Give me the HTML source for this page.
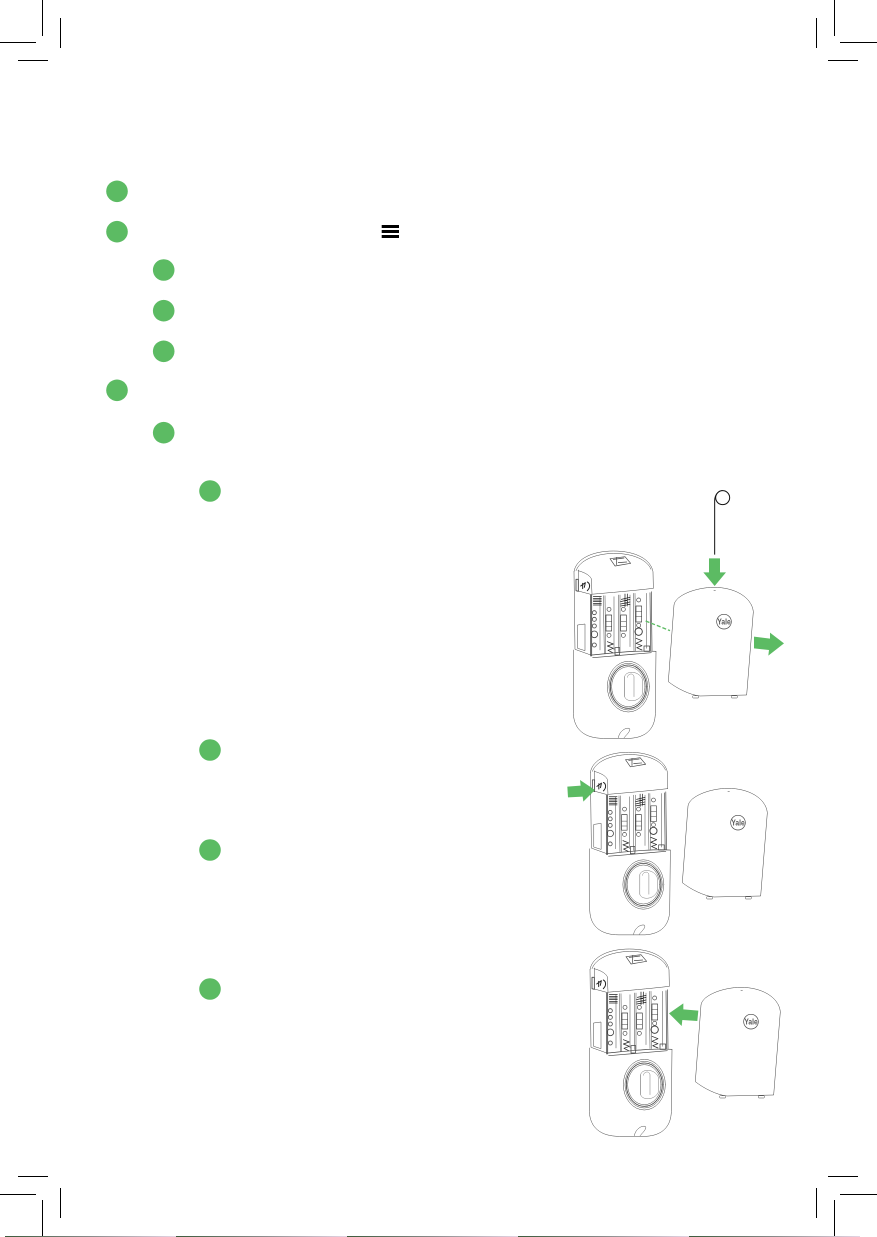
<!DOCTYPE html>
<html><head><meta charset="utf-8"><style>
html,body{margin:0;padding:0;background:#fff;width:877px;height:1237px;overflow:hidden}
svg{display:block}
</style></head><body>
<svg width="877" height="1237" viewBox="0 0 877 1237" xmlns="http://www.w3.org/2000/svg">
<defs>
<linearGradient id="st"><stop offset="0" stop-color="#3c5a3c"/><stop offset=".5" stop-color="#8a8a8a"/><stop offset="1" stop-color="#e4d4e4"/></linearGradient>
<g id="lock" fill="none" stroke="#444" stroke-width="1.5" stroke-linejoin="round" stroke-linecap="round">
<path d="M72,275C78,235 130,213 190,213C258,213 302,238 309,275L310,325"/>
<path d="M78,272C90,240 135,222 190,220C250,220 292,240 303,268"/>
<path d="M84,272C100,276 118,284 124,296L126,342"/>
<path d="M85,333L122,343C180,338 250,332 310,325"/>
<path d="M72,275L75,508L125,526"/>
<path d="M78,298L78,332L85,334L85,298Z" stroke-width="2.5"/>
<path d="M85,270L85,333"/>
<path d="M92,318L106,308L103,322M98,310L98,326M112,306C120,310 122,322 112,332" stroke="#222" stroke-width="3"/>
<path d="M180,236L225,230L242,250L195,258Z" stroke-width="2"/>
<path d="M190,238L222,234M205,248L230,246M200,232L200,254" stroke-width="2.2"/>
<path d="M83,435L105,432L105,512L83,505Z"/>
<path d="M125,345L125,528M122,345L122,528" stroke-width="2.4"/>
<path d="M300,338L302,512M304,335L306,512" stroke-width="2"/>
<path d="M160,347L163,520M165,347L167,520M205,345L205,515M210,345L210,515M250,340L252,512M255,340L257,512"/>
<path d="M150,350L150,510M192,350L192,510M240,345L240,500M290,340L290,505"/>
<path d="M130,350L154,350M130,355L154,355M130,360L154,360M130,365L154,365M130,370L154,370M130,375L154,375" stroke="#222" stroke-width="2.2"/>
<path d="M212,365L240,358M212,372L240,366M212,378L240,373M214,358L240,352M225,342V380M232,342V378" stroke="#222" stroke-width="2.2"/>
<circle cx="133" cy="398" r="6" stroke-width="2.4"/><circle cx="133" cy="418" r="6" stroke-width="2.4"/><circle cx="133" cy="438" r="6" stroke-width="2.4"/>
<circle cx="133" cy="463" r="10" stroke-width="2.4"/><circle cx="133" cy="495" r="6" stroke-width="2.4"/>
<rect x="168" y="405" width="17" height="48" stroke-width="2"/>
<path d="M168,425H185M168,440H185"/>
<circle cx="177" cy="388" r="6" stroke-width="2"/><circle cx="177" cy="466" r="6" stroke-width="2"/>
<rect x="212" y="405" width="17" height="48" stroke-width="2"/>
<path d="M212,425H229M212,440H229"/>
<circle cx="220" cy="388" r="6" stroke-width="2"/><circle cx="220" cy="466" r="6" stroke-width="2"/>
<rect x="258" y="378" width="17" height="48" stroke-width="2"/>
<path d="M258,395H275M258,410H275"/>
<circle cx="266" cy="360" r="6" stroke-width="2"/><circle cx="266" cy="436" r="6" stroke-width="2"/>
<circle cx="266" cy="455" r="11" stroke-width="3"/>
<path d="M172,485L190,492L172,498L190,505L174,511L188,518M258,475L276,482L258,490L276,497L260,503L276,510" stroke="#222" stroke-width="2.2"/>
<rect x="195" y="503" width="14" height="22" stroke-width="2.2"/>
<rect x="282" y="498" width="17" height="16" stroke-width="2.2"/>
<path d="M125,525C180,520 260,510 318,514M128,533C190,528 260,522 304,518" stroke-width="2"/>
<path d="M70,510L70,700C72,750 105,775 160,775L240,775C290,772 315,745 316,700L318,515"/>
<ellipse cx="235" cy="620" rx="63" ry="76"/>
<ellipse cx="235" cy="620" rx="58" ry="70"/>
<ellipse cx="235" cy="620" rx="54" ry="65" stroke-width="2.6"/>
<ellipse cx="235" cy="620" rx="50" ry="60" stroke-width="1.5"/>
<path d="M224,590C226,572 268,570 278,600L278,640C268,668 228,668 224,650Z" stroke="#777"/>
<path d="M224,590L224,650M232,592C234,580 250,578 252,590L252,650" stroke="#777"/>
<path d="M205,773C208,755 225,742 238,745C245,752 225,768 222,774"/>
</g>
<g id="cover" fill="none" stroke="#444" stroke-width="1.5" stroke-linejoin="round">
<path d="M372,375C376,345 440,322 492,322C552,322 605,350 610,395L590,645L450,648C420,645 380,625 355,605Z"/>
<rect x="428" y="647" width="18" height="7" rx="2"/>
<rect x="544" y="647" width="18" height="7" rx="2"/>
<circle cx="522" cy="425" r="22" stroke-width="2"/>
<path d="M491,331L497,331"/>
</g>
</defs>
<rect width="877" height="1237" fill="#fff"/>

<!-- crop marks -->
<g stroke="#000" stroke-width="1" shape-rendering="crispEdges">
<path d="M42.5,0V36M60.5,18V48M0,42.5H36M18,60.5H48"/>
<path d="M834.5,0V36M816.5,18V48M840,42.5H877M828,60.5H858"/>
<path d="M42.5,1200V1237M60.5,1188V1218M0,1194.5H36M18,1176.5H48"/>
<path d="M834.5,1200V1237M816.5,1188V1218M840,1194.5H877M828,1176.5H858"/>
</g>
<rect x="5" y="1236" width="171" height="1" fill="url(#st)"/>
<rect x="176" y="1236" width="171" height="1" fill="url(#st)"/>
<rect x="347" y="1236" width="171" height="1" fill="url(#st)"/>
<rect x="518" y="1236" width="171" height="1" fill="url(#st)"/>
<rect x="689" y="1236" width="171" height="1" fill="url(#st)"/>

<!-- bullets -->
<g fill="#5cbb63">
<circle cx="117" cy="191.3" r="10.8"/>
<circle cx="117" cy="231.7" r="10.8"/>
<circle cx="163.7" cy="270" r="10.8"/>
<circle cx="163.7" cy="310.7" r="10.8"/>
<circle cx="163.7" cy="351.3" r="10.8"/>
<circle cx="117" cy="390.3" r="10.8"/>
<circle cx="163.7" cy="432.7" r="10.8"/>
<circle cx="210" cy="491" r="10.8"/>
<circle cx="210" cy="750" r="10.8"/>
<circle cx="210" cy="850" r="10.8"/>
<circle cx="210" cy="989" r="10.8"/>
</g>
<!-- menu icon -->
<g fill="#000">
<rect x="381.7" y="225" width="17.3" height="3"/>
<rect x="381.7" y="230" width="17.3" height="3"/>
<rect x="381.7" y="235" width="17.3" height="3"/>
</g>

<!-- figure 1 -->
<g transform="translate(550,480) scale(.33333)">
<use href="#lock"/><use href="#cover"/>
<text x="522" y="434" font-family="'Liberation Sans',sans-serif" font-size="26" font-weight="bold" text-anchor="middle" fill="#555" textLength="40" lengthAdjust="spacingAndGlyphs">Yale</text>
<path d="M287,423L360,452" stroke="#5cbb63" stroke-width="4" stroke-dasharray="12,6" fill="none"/>
<path d="M477,235H510V277H528L494,318L460,277H477Z" fill="#5cbb63"/>
<path d="M612,470L660,476L660,458L702,490L655,527L657,510L612,505Z" fill="#5cbb63"/>
<path d="M494,224V62C494,45 505,32 518,32" fill="none" stroke="#111" stroke-width="3"/>
<circle cx="518" cy="53" r="21" fill="#fff" stroke="#111" stroke-width="3"/>
</g>

<!-- figure 2 -->
<g transform="translate(567,683) scale(.325)">
<use href="#lock"/>
</g>
<g transform="translate(564,681) scale(.33333)">
<use href="#cover"/>
<text x="522" y="434" font-family="'Liberation Sans',sans-serif" font-size="26" font-weight="bold" text-anchor="middle" fill="#555" textLength="40" lengthAdjust="spacingAndGlyphs">Yale</text>
</g>
<g transform="translate(550,745) scale(.33333)">
<path d="M52,125L92,122L90,105L135,135L100,170L98,155L54,157Z" fill="#5cbb63"/>
</g>

<!-- figure 3 -->
<g transform="translate(566,878) scale(.33333)">
<use href="#lock"/>
</g>
<g transform="translate(577,880) scale(.33333)">
<use href="#cover"/>
<text x="522" y="434" font-family="'Liberation Sans',sans-serif" font-size="26" font-weight="bold" text-anchor="middle" fill="#555" textLength="40" lengthAdjust="spacingAndGlyphs">Yale</text>
</g>
<g transform="translate(570,945) scale(.33333)">
<path d="M297,205L340,175L340,193L385,197L382,228L337,225L335,243Z" fill="#5cbb63"/>
</g>
</svg>
</body></html>
